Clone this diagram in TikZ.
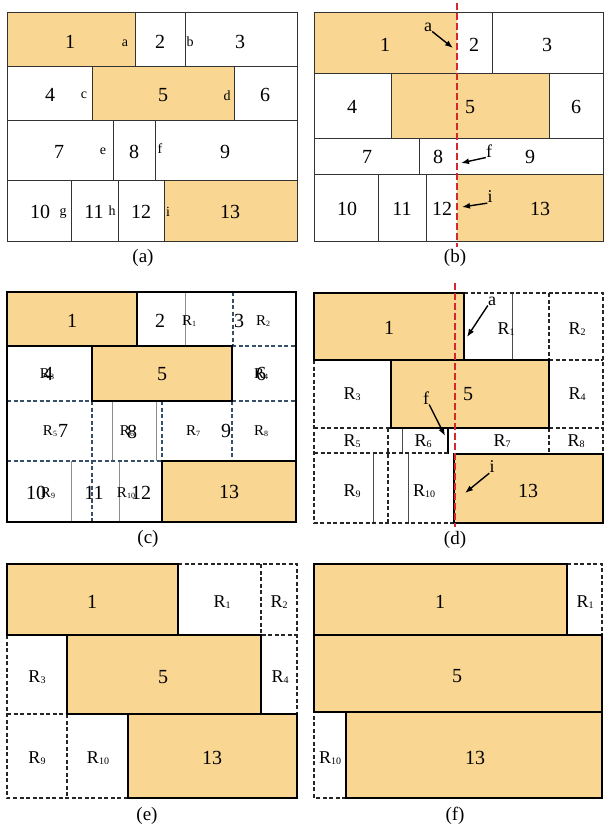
\documentclass[tikz,border=0pt]{standalone}
\usepackage{fontspec}
\setmainfont{Liberation Serif}
\usetikzlibrary{arrows.meta}
\definecolor{boxfill}{RGB}{249,214,146}
\definecolor{redline}{RGB}{214,40,44}
\definecolor{bluedash}{RGB}{55,80,105}
\newcommand\sub[1]{\raisebox{-0.2ex}{\fontsize{10}{10}\selectfont #1}}
\newcommand\subc[1]{\raisebox{-0.2ex}{\fontsize{8}{8}\selectfont #1}}
\begin{document}
\begin{tikzpicture}[x=1pt,y=-1pt,
  thinbox/.style={draw=black!80, line width=0.9pt},
  orangebox/.style={fill=boxfill, draw=black, line width=1.5pt},
  blackline/.style={draw=black, line width=1.5pt},
  dsh/.style={draw=black!85, line width=1.4pt, dash pattern=on 4pt off 2.5pt},
  bdsh/.style={draw=bluedash, line width=1.3pt, dash pattern=on 4pt off 2.5pt},
  gry/.style={draw=black!45, line width=1pt},
  darkline/.style={draw=black!70, line width=1pt},
  redcut/.style={draw=redline, line width=2.4pt, dash pattern=on 7pt off 3pt},
  arr/.style={-{Latex[length=8pt,width=6pt]}, line width=1.4pt},
  num/.style={font=\fontsize{20}{20}\selectfont, inner sep=0pt},
  smalllet/.style={font=\fontsize{14}{14}\selectfont, inner sep=0pt},
  biglet/.style={font=\fontsize{18}{18}\selectfont, inner sep=0pt},
  rbig/.style={font=\fontsize{18}{18}\selectfont, inner sep=0pt},
  rsmall/.style={font=\fontsize{15}{15}\selectfont, inner sep=0pt},
  captext/.style={font=\fontsize{19}{19}\selectfont, inner sep=0pt}]
\useasboundingbox (0,0) rectangle (615,824);
\fill[white] (0,0) rectangle (615,824);

%% ---------------- (a) ----------------
\fill[boxfill] (7,12) rectangle (135,66);
\fill[boxfill] (92,66) rectangle (234,120);
\fill[boxfill] (164,180) rectangle (297,241);
\draw[thinbox] (7,12) rectangle (297,241);
\draw[thinbox] (7,66) -- (297,66) (7,120) -- (297,120) (7,180) -- (297,180);
\draw[thinbox] (135,12) -- (135,66) (185,12) -- (185,66);
\draw[thinbox] (92,66) -- (92,120) (234,66) -- (234,120);
\draw[thinbox] (113,120) -- (113,180) (155,120) -- (155,180);
\draw[thinbox] (71,180) -- (71,241) (118,180) -- (118,241) (164,180) -- (164,241);
\node[num] (a1) at (70,42) {1};
\node[smalllet] (aa) at (125,43) {a};
\node[num] (a2) at (160,42) {2};
\node[smalllet] (ab) at (190,42) {b};
\node[num] (a3) at (240,42) {3};
\node[num] (a4) at (50,95) {4};
\node[smalllet] (ac) at (84,95) {c};
\node[num] (a5) at (163,95) {5};
\node[smalllet] (ad) at (227,96) {d};
\node[num] (a6) at (265,95) {6};
\node[num] (a7) at (59,152) {7};
\node[smalllet] (ae) at (103,151) {e};
\node[num] (a8) at (134,152) {8};
\node[smalllet] (af) at (160,149) {f};
\node[num] (a9) at (225,152) {9};
\node[num] (a10) at (40,212) {10};
\node[smalllet] (ag) at (63,213) {g};
\node[num] (a11) at (94,212) {11};
\node[smalllet] (ah) at (112,211) {h};
\node[num] (a12) at (141,212) {12};
\node[smalllet] (ai) at (168,212) {i};
\node[num] (a13) at (230,212) {13};
\node[captext] (capa) at (143,258) {(a)};

%% ---------------- (b) ----------------
\fill[boxfill] (314,12) rectangle (457,73);
\fill[boxfill] (391,73) rectangle (549,138);
\fill[boxfill] (457,174) rectangle (603,241);
\draw[thinbox] (314,12) rectangle (603,241);
\draw[thinbox] (314,73) -- (603,73) (314,138) -- (603,138) (314,174) -- (603,174);
\draw[thinbox] (492,12) -- (492,73);
\draw[thinbox] (391,73) -- (391,138) (549,73) -- (549,138);
\draw[thinbox] (419,138) -- (419,174);
\draw[thinbox] (378,174) -- (378,241) (426,174) -- (426,241);
\draw[redcut] (457,3) -- (457,247);
\node[num] (b1) at (385,45) {1};
\node[num] (b2) at (474,45) {2};
\node[num] (b3) at (547,45) {3};
\node[biglet] (ba) at (428,27) {a};
\coordinate (bat) at (453,48);
\draw[arr] (ba.south east) -- (bat);
\node[num] (b4) at (352,107) {4};
\node[num] (b5) at (470,107) {5};
\node[num] (b6) at (576,107) {6};
\node[num] (b7) at (367,157) {7};
\node[num] (b8) at (438,157) {8};
\node[num] (b9) at (530,157) {9};
\node[biglet] (bf) at (489,151) {f};
\coordinate (bft) at (461,163);
\draw[arr] (bf.south west) -- (bft);
\node[num] (b10) at (347,209) {10};
\node[num] (b11) at (402,209) {11};
\node[num] (b12) at (442,209) {12};
\node[num] (b13) at (540,209) {13};
\node[biglet] (bi) at (490,197) {i};
\coordinate (bit) at (462,207);
\draw[arr] (bi.south west) -- (bit);
\node[captext] (capb) at (455,258) {(b)};

%% ---------------- (c) ----------------
\draw[gry] (185,292) -- (185,346);
\draw[gry] (112,401) -- (112,461) (156,401) -- (156,461);
\draw[gry] (71,461) -- (71,522) (119,461) -- (119,522);
\draw[bdsh] (233,292) -- (233,346) (232,346) -- (296,346);
\draw[bdsh] (7,401) -- (92,401) (232,401) -- (296,401);
\draw[bdsh] (92,401) -- (92,522);
\draw[bdsh] (162,401) -- (162,461) (232,401) -- (232,461);
\draw[bdsh] (7,461) -- (162,461);
\draw[orangebox] (7,292) rectangle (137,346);
\draw[orangebox] (92,346) rectangle (232,401);
\draw[orangebox] (162,461) rectangle (296,522);
\draw[blackline] (7,292) rectangle (296,522);
\node[num] (c1) at (72,321) {1};
\node[num] (c2) at (160,321) {2};
\node[rsmall] (cR1) at (189,321) {R\subc{1}};
\node[num] (c3) at (239,321) {3};
\node[rsmall] (cR2) at (263,321) {R\subc{2}};
\node[num] (c4) at (48,374) {4};
\node[rsmall] (cR3) at (47,374) {R\subc{3}};
\node[num] (c5) at (162,374) {5};
\node[num] (c6) at (261,374) {6};
\node[rsmall] (cR4) at (261,374) {R\subc{4}};
\node[rsmall] (cR5) at (50,431) {R\subc{5}};
\node[num] (c7) at (63,431) {7};
\node[rsmall] (cR6) at (127,431) {R\subc{6}};
\node[num] (c8) at (132,432) {8};
\node[rsmall] (cR7) at (193,431) {R\subc{7}};
\node[num] (c9) at (226,431) {9};
\node[rsmall] (cR8) at (261,431) {R\subc{8}};
\node[num] (c10) at (36,493) {10};
\node[rsmall] (cR9) at (48,493) {R\subc{9}};
\node[num] (c11) at (94,493) {11};
\node[rsmall] (cR10) at (126,493) {R\subc{10}};
\node[num] (c12) at (141,493) {12};
\node[num] (c13) at (229,492) {13};
\node[captext] (capc) at (148,539) {(c)};

%% ---------------- (d) ----------------
\draw[darkline] (512,293) -- (512,360);
\draw[darkline] (402,428) -- (402,454);
\draw[darkline] (373,454) -- (373,523) (408,454) -- (408,523);
\draw[blackline, line width=1.2pt] (448,428) -- (448,454);
\draw[dsh] (464,293) -- (603,293) -- (603,454);
\draw[dsh] (549,293) -- (549,360) (549,360) -- (603,360);
\draw[dsh] (314,360) -- (314,523) -- (454,523);
\draw[dsh] (314,428) -- (391,428) (549,428) -- (603,428);
\draw[dsh] (549,428) -- (549,454);
\draw[dsh] (388,428) -- (388,523);
\draw[dsh] (314,453) -- (448,453);
\draw[orangebox] (314,293) rectangle (464,360);
\draw[orangebox] (391,360) rectangle (549,428);
\draw[orangebox] (454,454) rectangle (603,523);
\draw[redcut] (455,283) -- (455,527);
\node[num] (d1) at (389,328) {1};
\node[rbig] (dR1) at (506,329) {R\sub{1}};
\node[rbig] (dR2) at (577,329) {R\sub{2}};
\node[biglet] (da) at (492,301) {a};
\coordinate (dat) at (467,337);
\draw[arr] (da.south west) -- (dat);
\node[rbig] (dR3) at (352,394) {R\sub{3}};
\node[num] (d5) at (468,394) {5};
\node[rbig] (dR4) at (577,394) {R\sub{4}};
\node[biglet] (df) at (426,398) {f};
\coordinate (dft) at (445,436);
\draw[arr] (df.south east) -- (dft);
\node[rbig] (dR5) at (352,441) {R\sub{5}};
\node[rbig] (dR6) at (423,441) {R\sub{6}};
\node[rbig] (dR7) at (502,441) {R\sub{7}};
\node[rbig] (dR8) at (576,441) {R\sub{8}};
\node[rbig] (dR9) at (352,491) {R\sub{9}};
\node[rbig] (dR10) at (424,491) {R\sub{10}};
\node[num] (d13) at (528,491) {13};
\node[biglet] (di) at (492,467) {i};
\coordinate (dit) at (465,493);
\draw[arr] (di.south west) -- (dit);
\node[captext] (capd) at (455,540) {(d)};

%% ---------------- (e) ----------------
\draw[dsh] (178,564) -- (297,564) -- (297,714);
\draw[dsh] (261,564) -- (261,635) -- (297,635);
\draw[dsh] (7,635) -- (7,798) -- (128,798);
\draw[dsh] (7,714) -- (67,714);
\draw[dsh] (67,714) -- (67,798);
\draw[orangebox] (7,564) rectangle (178,635);
\draw[orangebox] (67,635) rectangle (261,714);
\draw[orangebox] (128,714) rectangle (297,798);
\node[num] (e1) at (92,602) {1};
\node[rbig] (eR1) at (222,602) {R\sub{1}};
\node[rbig] (eR2) at (279,602) {R\sub{2}};
\node[rbig] (eR3) at (37,677) {R\sub{3}};
\node[num] (e5) at (163,677) {5};
\node[rbig] (eR4) at (280,677) {R\sub{4}};
\node[rbig] (eR9) at (37,758) {R\sub{9}};
\node[rbig] (eR10) at (98,758) {R\sub{10}};
\node[num] (e13) at (212,758) {13};
\node[captext] (cape) at (147,816) {(e)};

%% ---------------- (f) ----------------
\draw[dsh] (567,564) -- (602,564) -- (602,635);
\draw[dsh] (346,798) -- (314,798) -- (314,712);
\draw[orangebox] (314,564) rectangle (567,635);
\draw[orangebox] (314,635) rectangle (602,712);
\draw[orangebox] (346,712) rectangle (602,798);
\node[num] (f1) at (440,602) {1};
\node[rbig] (fR1) at (585,602) {R\sub{1}};
\node[num] (f5) at (457,676) {5};
\node[rbig] (fR10) at (330,758) {R\sub{10}};
\node[num] (f13) at (475,758) {13};
\node[captext] (capf) at (455,816) {(f)};
\end{tikzpicture}
\end{document}
